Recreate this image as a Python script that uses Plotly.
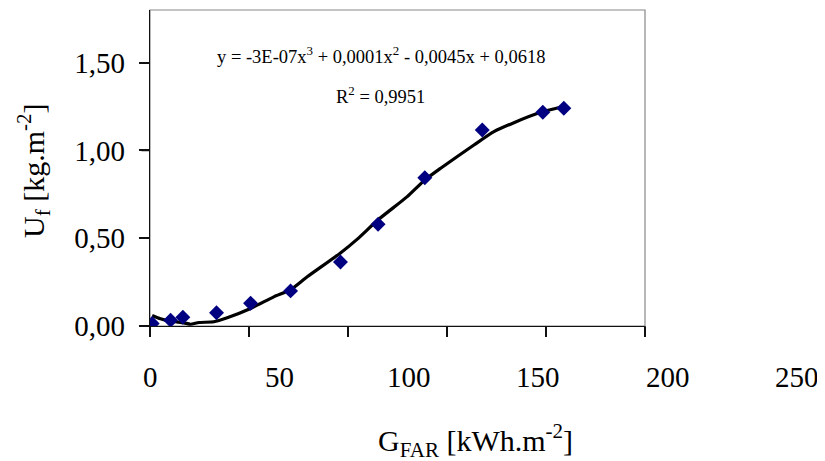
import plotly.graph_objects as go

# measured data points (G_FAR, U_f)
g_far = [1.1, 10.4, 16.6, 33.6, 50.8, 71.0, 96.2, 115.2, 138.8, 167.8, 198.4, 209.0]
u_f = [0.014, 0.033, 0.050, 0.075, 0.130, 0.200, 0.365, 0.580, 0.845, 1.117, 1.217, 1.240]

# trend line
trend_x = [1.1, 5.3, 10.4, 17.1, 20.5, 24.7, 32.2, 39.0, 50.8, 62.5, 71.0, 79.4,
           96.2, 104.7, 115.2, 129.9, 138.8, 146.8, 163.6, 173.7, 183.8, 197.3, 208.2]
trend_y = [0.060, 0.041, 0.027, 0.018, 0.010, 0.020, 0.024, 0.047, 0.100, 0.166, 0.207, 0.280,
           0.416, 0.495, 0.605, 0.737, 0.832, 0.899, 1.031, 1.107, 1.158, 1.217, 1.249]

x_ticks = [0, 50, 100, 150, 200, 250]
x_ticktext = ["0", "50", "100", "150", "200", "250"]
y_ticks = [0, 0.5, 1.0, 1.5]
y_ticktext = ["0,00", "0,50", "1,00", "1,50"]

eq_line1 = "y = -3E-07x<sup>3</sup> + 0,0001x<sup>2</sup> - 0,0045x + 0,0618"
eq_line2 = "R<sup>2</sup> = 0,9951"
x_title = "G<sub>FAR</sub> [kWh.m<sup>-2</sup>]"
y_title = "U<sub>f</sub> [kg.m<sup>-2</sup>]"

FONT = "Liberation Serif, Times New Roman, serif"
AXC = "#111"
TICKLEN = 10

# the page body adds an 8px offset; work in reference pixels and shift
OFF = 8
W, H = 825 - OFF, 461 - OFF
L, R, T, B = 150 - OFF, 825 - 645, 10 - OFF, 461 - 326
pw = W - L - R
ph = H - T - B
# in the reference the x tick labels are spread wider than the tick marks
LABEL_STRETCH = (646.5 - 495.0) / 250.0   # extra px per x unit

fig = go.Figure()
fig.add_trace(go.Scatter(x=trend_x, y=trend_y, mode="lines",
                         line=dict(color="black", width=3.2, shape="spline", smoothing=0.6),
                         hoverinfo="skip", showlegend=False))
fig.add_trace(go.Scatter(x=g_far, y=u_f, mode="markers",
                         marker=dict(symbol="diamond", size=11.5, color="#000080"),
                         showlegend=False))

fig.update_layout(
    width=W, height=H,
    margin=dict(l=L, r=R, t=T, b=B),
    paper_bgcolor="white", plot_bgcolor="white",
    font=dict(family=FONT, size=29, color="black"),
    xaxis=dict(range=[0, 250], tickvals=x_ticks,
               showticklabels=False, ticks="outside", ticklen=TICKLEN, tickwidth=1.5, tickcolor=AXC,
               showline=True, linecolor=AXC, linewidth=1.3, showgrid=False, zeroline=False),
    yaxis=dict(range=[0, 1.8], tickvals=y_ticks, ticktext=y_ticktext,
               ticks="outside", ticklen=TICKLEN, tickwidth=1.5, tickcolor=AXC,
               showline=True, linecolor=AXC, linewidth=1.3, showgrid=False, zeroline=False,
               ticklabelstandoff=8, tickfont=dict(family=FONT, size=29)),
    showlegend=False,
)

fig.add_shape(type="rect", xref="x domain", yref="y domain", x0=0, x1=1, y0=0, y1=1,
              line=dict(color="#888", width=1.2), layer="below")

# tick marks drawn as arrow-less annotation stems at the axis tick values
for v in x_ticks:
    fig.add_annotation(text="", xref="x", yref="y", x=v, y=0, showarrow=True,
                       axref="pixel", ayref="pixel", ax=0, ay=TICKLEN,
                       arrowhead=0, arrowwidth=1.5, arrowcolor=AXC, standoff=0, startstandoff=0)
for v in y_ticks:
    fig.add_annotation(text="", xref="x", yref="y", x=0, y=v, showarrow=True,
                       axref="pixel", ayref="pixel", ax=-TICKLEN, ay=0,
                       arrowhead=0, arrowwidth=1.5, arrowcolor=AXC, standoff=0, startstandoff=0)

for v, t in zip(x_ticks, x_ticktext):
    fig.add_annotation(text=t, xref="x", yref="y", x=v, y=0, xshift=0.5 + v * LABEL_STRETCH,
                       yshift=-51, showarrow=False, font=dict(family=FONT, size=29),
                       xanchor="center", yanchor="middle")

def px(xp):
    return (xp - 150) / pw
def py(yp):
    return (326 - yp) / ph

fig.add_annotation(text=eq_line1, xref="paper", yref="paper", x=px(381), y=py(55),
                   showarrow=False, font=dict(family=FONT, size=18.5), xanchor="center", yanchor="middle")
fig.add_annotation(text=eq_line2, xref="paper", yref="paper", x=px(380), y=py(95),
                   showarrow=False, font=dict(family=FONT, size=18.5), xanchor="center", yanchor="middle")
fig.add_annotation(text=x_title, xref="paper", yref="paper", x=px(475), y=py(440),
                   showarrow=False, font=dict(family=FONT, size=30), xanchor="center", yanchor="middle")
fig.add_annotation(text=y_title, xref="paper", yref="paper", x=px(33), y=py(171),
                   showarrow=False, font=dict(family=FONT, size=30), textangle=-90,
                   xanchor="center", yanchor="middle")

fig.write_html("out.html")
